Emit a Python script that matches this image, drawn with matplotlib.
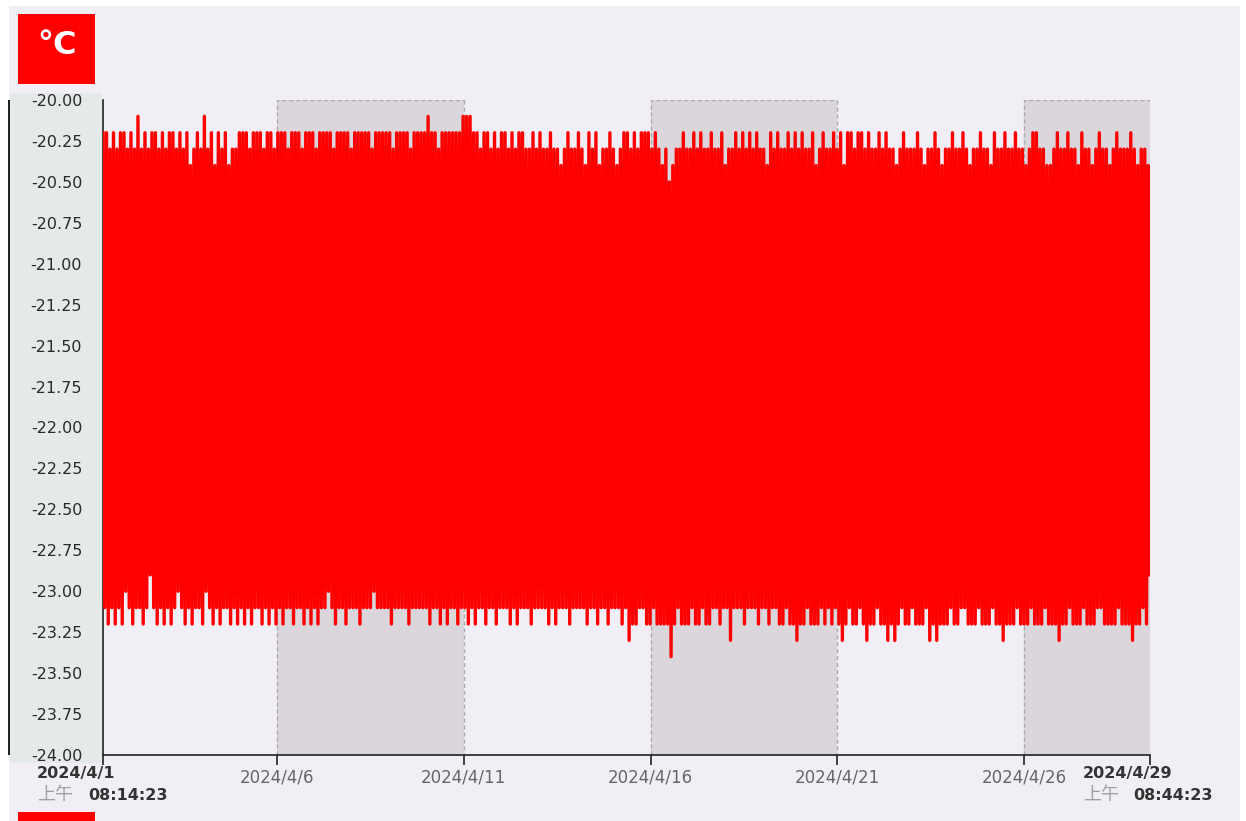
import pandas as pd
import matplotlib
matplotlib.use("Agg")
import matplotlib.pyplot as plt
from matplotlib.patches import Rectangle
from matplotlib.transforms import blended_transform_factory, offset_copy

# ---- data (deg C, 0.1 steps) ----
start_time = "2024-04-01 08:14:23"
end_time = "2024-04-29 08:44:23"

peaks = [
    -20.2, -20.2, -20.3, -20.2, -20.3, -20.2, -20.2, -20.3, -20.2, -20.3, -20.1, -20.3, -20.2, -20.3, -20.2, -20.2, -20.3, -20.2, -20.3, -20.2,
    -20.2, -20.3, -20.2, -20.3, -20.2, -20.4, -20.3, -20.2, -20.3, -20.1, -20.3, -20.2, -20.4, -20.2, -20.3, -20.2, -20.4, -20.3, -20.3, -20.2,
    -20.2, -20.2, -20.3, -20.2, -20.2, -20.2, -20.3, -20.2, -20.2, -20.3, -20.2, -20.2, -20.2, -20.3, -20.2, -20.2, -20.2, -20.3, -20.2, -20.2,
    -20.2, -20.3, -20.2, -20.2, -20.2, -20.2, -20.3, -20.2, -20.2, -20.2, -20.2, -20.3, -20.2, -20.2, -20.2, -20.2, -20.2, -20.3, -20.2, -20.2,
    -20.2, -20.2, -20.2, -20.3, -20.2, -20.2, -20.2, -20.2, -20.3, -20.2, -20.2, -20.2, -20.2, -20.1, -20.2, -20.2, -20.3, -20.2, -20.2, -20.2,
    -20.2, -20.2, -20.2, -20.1, -20.1, -20.1, -20.2, -20.2, -20.3, -20.2, -20.2, -20.3, -20.2, -20.3, -20.2, -20.2, -20.3, -20.2, -20.3, -20.2,
    -20.2, -20.3, -20.3, -20.2, -20.3, -20.2, -20.3, -20.3, -20.2, -20.3, -20.3, -20.4, -20.3, -20.2, -20.3, -20.3, -20.2, -20.3, -20.4, -20.2,
    -20.3, -20.2, -20.4, -20.3, -20.3, -20.2, -20.3, -20.4, -20.3, -20.2, -20.2, -20.3, -20.2, -20.3, -20.2, -20.2, -20.2, -20.3, -20.2, -20.3,
    -20.4, -20.3, -20.5, -20.4, -20.3, -20.3, -20.2, -20.3, -20.3, -20.2, -20.3, -20.2, -20.3, -20.3, -20.2, -20.3, -20.3, -20.2, -20.4, -20.3,
    -20.3, -20.2, -20.3, -20.2, -20.3, -20.2, -20.3, -20.2, -20.3, -20.3, -20.4, -20.2, -20.3, -20.2, -20.3, -20.3, -20.2, -20.3, -20.2, -20.3,
    -20.2, -20.3, -20.3, -20.2, -20.4, -20.3, -20.2, -20.3, -20.3, -20.2, -20.3, -20.2, -20.4, -20.2, -20.2, -20.3, -20.2, -20.2, -20.3, -20.2,
    -20.3, -20.3, -20.2, -20.3, -20.2, -20.3, -20.3, -20.4, -20.3, -20.2, -20.3, -20.3, -20.3, -20.2, -20.3, -20.4, -20.3, -20.3, -20.2, -20.3,
    -20.4, -20.3, -20.3, -20.2, -20.3, -20.3, -20.2, -20.3, -20.4, -20.3, -20.3, -20.2, -20.3, -20.3, -20.4, -20.2, -20.3, -20.3, -20.2, -20.3,
    -20.3, -20.2, -20.3, -20.3, -20.4, -20.3, -20.2, -20.2, -20.3, -20.3, -20.4, -20.4, -20.3, -20.2, -20.3, -20.3, -20.2, -20.3, -20.3, -20.4,
    -20.2, -20.3, -20.3, -20.4, -20.3, -20.2, -20.3, -20.3, -20.4, -20.3, -20.2, -20.3, -20.3, -20.3, -20.2, -20.3, -20.4, -20.3, -20.3, -20.4,
]

troughs = [
    -23.1, -23.2, -23.1, -23.2, -23.1, -23.2, -23.0, -23.1, -23.2, -23.1, -23.1, -23.2, -23.1, -22.9, -23.1, -23.2, -23.1, -23.2, -23.1, -23.2,
    -23.1, -23.0, -23.1, -23.2, -23.1, -23.2, -23.1, -23.1, -23.2, -23.0, -23.1, -23.2, -23.1, -23.2, -23.1, -23.1, -23.2, -23.1, -23.2, -23.1,
    -23.2, -23.1, -23.2, -23.1, -23.1, -23.2, -23.1, -23.2, -23.1, -23.2, -23.1, -23.2, -23.1, -23.1, -23.2, -23.1, -23.1, -23.2, -23.1, -23.2,
    -23.1, -23.2, -23.1, -23.1, -23.0, -23.1, -23.2, -23.1, -23.1, -23.2, -23.1, -23.1, -23.1, -23.2, -23.1, -23.1, -23.1, -23.0, -23.1, -23.1,
    -23.1, -23.1, -23.2, -23.1, -23.1, -23.1, -23.1, -23.2, -23.1, -23.1, -23.1, -23.1, -23.1, -23.2, -23.1, -23.1, -23.2, -23.1, -23.2, -23.1,
    -23.1, -23.2, -23.1, -23.1, -23.2, -23.1, -23.2, -23.1, -23.1, -23.2, -23.1, -23.1, -23.2, -23.1, -23.1, -23.1, -23.2, -23.1, -23.2, -23.1,
    -23.1, -23.1, -23.2, -23.1, -23.1, -23.1, -23.1, -23.2, -23.1, -23.2, -23.1, -23.1, -23.1, -23.2, -23.1, -23.1, -23.1, -23.1, -23.2, -23.1,
    -23.1, -23.2, -23.1, -23.1, -23.2, -23.1, -23.1, -23.1, -23.2, -23.1, -23.3, -23.2, -23.2, -23.1, -23.1, -23.2, -23.2, -23.1, -23.2, -23.2,
    -23.2, -23.2, -23.4, -23.2, -23.1, -23.2, -23.2, -23.2, -23.1, -23.2, -23.2, -23.1, -23.2, -23.2, -23.1, -23.1, -23.2, -23.1, -23.1, -23.3,
    -23.1, -23.1, -23.1, -23.2, -23.1, -23.1, -23.1, -23.2, -23.1, -23.1, -23.2, -23.1, -23.1, -23.2, -23.2, -23.1, -23.2, -23.2, -23.3, -23.2,
    -23.2, -23.1, -23.2, -23.2, -23.2, -23.1, -23.2, -23.1, -23.2, -23.1, -23.2, -23.3, -23.2, -23.1, -23.2, -23.2, -23.1, -23.2, -23.3, -23.2,
    -23.2, -23.1, -23.2, -23.2, -23.3, -23.2, -23.3, -23.2, -23.1, -23.2, -23.2, -23.1, -23.2, -23.2, -23.2, -23.1, -23.3, -23.2, -23.3, -23.2,
    -23.2, -23.2, -23.1, -23.2, -23.2, -23.1, -23.1, -23.2, -23.2, -23.2, -23.1, -23.2, -23.2, -23.2, -23.1, -23.2, -23.2, -23.3, -23.2, -23.2,
    -23.2, -23.1, -23.2, -23.2, -23.2, -23.1, -23.2, -23.2, -23.2, -23.1, -23.2, -23.2, -23.2, -23.3, -23.2, -23.2, -23.1, -23.2, -23.2, -23.2,
    -23.1, -23.2, -23.2, -23.2, -23.1, -23.1, -23.2, -23.2, -23.2, -23.2, -23.1, -23.2, -23.2, -23.2, -23.3, -23.2, -23.2, -23.1, -23.2, -22.9,
]

mid_ticks = ["2024-04-06", "2024-04-11", "2024-04-16", "2024-04-21", "2024-04-26"]
mid_labels = ["2024/4/6", "2024/4/11", "2024/4/16", "2024/4/21", "2024/4/26"]
shaded = [("2024-04-06", "2024-04-11"), ("2024-04-16", "2024-04-21"), ("2024-04-26", end_time)]
y_ticks = [-20.0, -20.25, -20.5, -20.75, -21.0, -21.25, -21.5, -21.75, -22.0,
           -22.25, -22.5, -22.75, -23.0, -23.25, -23.5, -23.75, -24.0]

# series alternates high / low
values = []
for p, t in zip(peaks, troughs):
    values.append(p)
    values.append(t)
times = pd.date_range(start_time, end_time, periods=len(values))

W, H = 1246, 821
BG = "#F2EEF5"
fig = plt.figure(figsize=(W / 100, H / 100), dpi=100, facecolor="white")


def box(x0, y0, x1, y1, z=-1, **kw):
    # pixel box (top-left origin) on the figure
    fig.add_artist(Rectangle((x0 / W, 1 - y1 / H), (x1 - x0) / W, (y1 - y0) / H,
                             transform=fig.transFigure, zorder=z, **kw))


box(9, 6, 1240, 821, z=-3, facecolor=BG, edgecolor="none")
box(10, 93, 102, 763, z=-2, facecolor="#E5E9E9", edgecolor="none")
box(8, 100, 10, 755, facecolor="#222222", edgecolor="none")
box(18, 14, 95, 84, facecolor="#FF0000", edgecolor="none")
box(18, 812, 95, 821, facecolor="#FF0000", edgecolor="none")
fig.text(56.5 / W, 1 - 46 / H, "°C", color="white", fontsize=23, fontweight="bold",
         ha="center", va="center")

ax = fig.add_axes([103 / W, 1 - 755 / H, (1150 - 103) / W, 655 / H])
ax.patch.set_alpha(0)

t0 = pd.Timestamp(start_time)
t1 = pd.Timestamp(end_time)

for a, b in shaded:
    a, b = pd.Timestamp(a), pd.Timestamp(b)
    ax.axvspan(a, b, facecolor="#DAD6DC", edgecolor="none", zorder=1)
    ax.plot([a, a, b], [-24, -20, -20], color="#AAAAAA", lw=1, ls=(0, (3, 2)), zorder=1.5)
    if b < t1:
        ax.plot([b, b], [-20, -24], color="#AAAAAA", lw=1, ls=(0, (3, 2)), zorder=1.5)

ax.plot(times, values, color="#FF0000", lw=2.4, zorder=3)

ax.set_xlim(t0, t1)
ax.set_ylim(-24, -20)
ax.set_yticks(y_ticks)
ax.set_yticklabels(["%.2f" % v for v in y_ticks], fontsize=11.5, color="#2a2a2a")
ax.tick_params(axis="y", length=0, pad=15)

xt = [t0] + [pd.Timestamp(d) for d in mid_ticks] + [t1]
ax.set_xticks(xt)
ax.set_xticklabels([""] + mid_labels + [""], fontsize=12, color="#666666")
ax.tick_params(axis="x", length=7, width=1.2, color="#222222", pad=3)

for s in ["top", "right"]:
    ax.spines[s].set_visible(False)
for s in ["left", "bottom"]:
    ax.spines[s].set_color("#222222")
    ax.spines[s].set_linewidth(1.2)

# start / end labels (bold date, grey 上午 + bold time)
base = blended_transform_factory(ax.transData, ax.transAxes)
cjk = ["Noto Sans CJK SC", "DejaVu Sans"]
for t, date_txt, time_txt, left, dx_time in [(t0, "2024/4/1", "08:14:23", -66, -15),
                                              (t1, "2024/4/29", "08:44:23", -67, -17)]:
    ax.text(t, 0, date_txt, transform=offset_copy(base, fig, x=left, y=-18, units="dots"),
            fontsize=11.5, fontweight="bold", color="#333333", ha="left", va="center")
    ax.text(t, 0, "上午", transform=offset_copy(base, fig, x=left, y=-40, units="dots"),
            fontsize=13, color="#A0A0A0", ha="left", va="center", family=cjk)
    ax.text(t, 0, time_txt, transform=offset_copy(base, fig, x=dx_time, y=-40, units="dots"),
            fontsize=11.5, fontweight="bold", color="#333333", ha="left", va="center")

fig.savefig("out.png", dpi=100, facecolor="white")
